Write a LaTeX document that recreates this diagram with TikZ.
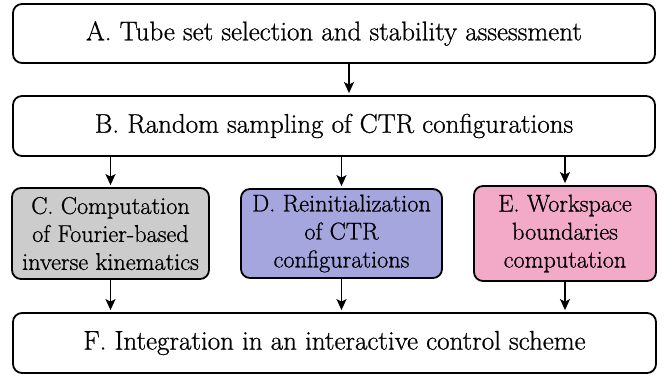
\documentclass[tikz,border=0pt]{standalone}
\usepackage{fontspec}
\setmainfont{Latin Modern Roman}[BoldFont=Latin Modern Roman, BoldFeatures={FakeBold=0.8}]
\usetikzlibrary{arrows.meta}
\definecolor{cgray}{RGB}{204,204,204}
\definecolor{dblue}{RGB}{166,166,222}
\definecolor{epink}{RGB}{242,170,200}
\tikzset{
  box/.style={draw=black, line width=1.8pt, rounded corners=9pt, align=center,
    inner sep=0pt, font=\bfseries\fontsize{27}{29}\selectfont},
  sbox/.style={box, font=\bfseries\fontsize{24.3}{28}\selectfont},
  arr/.style={line width=1.8pt, -{Stealth[length=11pt,width=10pt,inset=2.5pt]}, shorten >=2pt}
}
\begin{document}
\begin{tikzpicture}[x=1pt,y=-1pt]
\useasboundingbox (0,0) rectangle (672,376);
\node[box, minimum width=642pt, minimum height=59pt] (A) at (334,33.5) {A. Tube set selection and stability assessment};
\node[box, minimum width=642pt, minimum height=60pt] (B) at (334,126) {B. Random sampling of CTR configurations};
\node[sbox, fill=cgray, minimum width=197pt, minimum height=91pt] (C) at (110.5,233.5) {C. Computation\\of Fourier-based\\inverse kinematics};
\node[sbox, fill=dblue, minimum width=201pt, minimum height=89pt] (D) at (341.5,233.5) {D. Reinitialization\\of CTR\\configurations};
\node[sbox, fill=epink, minimum width=182pt, minimum height=95pt] (E) at (565,233.5) {E. Workspace\\boundaries\\computation};
\node[box, minimum width=643pt, minimum height=60pt] (F) at (334.5,343) {F. Integration in an interactive control scheme};
\draw[arr] ([xshift=15pt]A.south) -- ([xshift=15pt]B.north);
\draw[arr] (B.south -| C.north) -- (C.north);
\draw[arr] (B.south -| D.north) -- (D.north);
\draw[arr] (B.south -| E.north) -- (E.north);
\draw[arr] (C.south) -- (F.north -| C.south);
\draw[arr] (D.south) -- (F.north -| D.south);
\draw[arr] (E.south) -- (F.north -| E.south);
\end{tikzpicture}
\end{document}
